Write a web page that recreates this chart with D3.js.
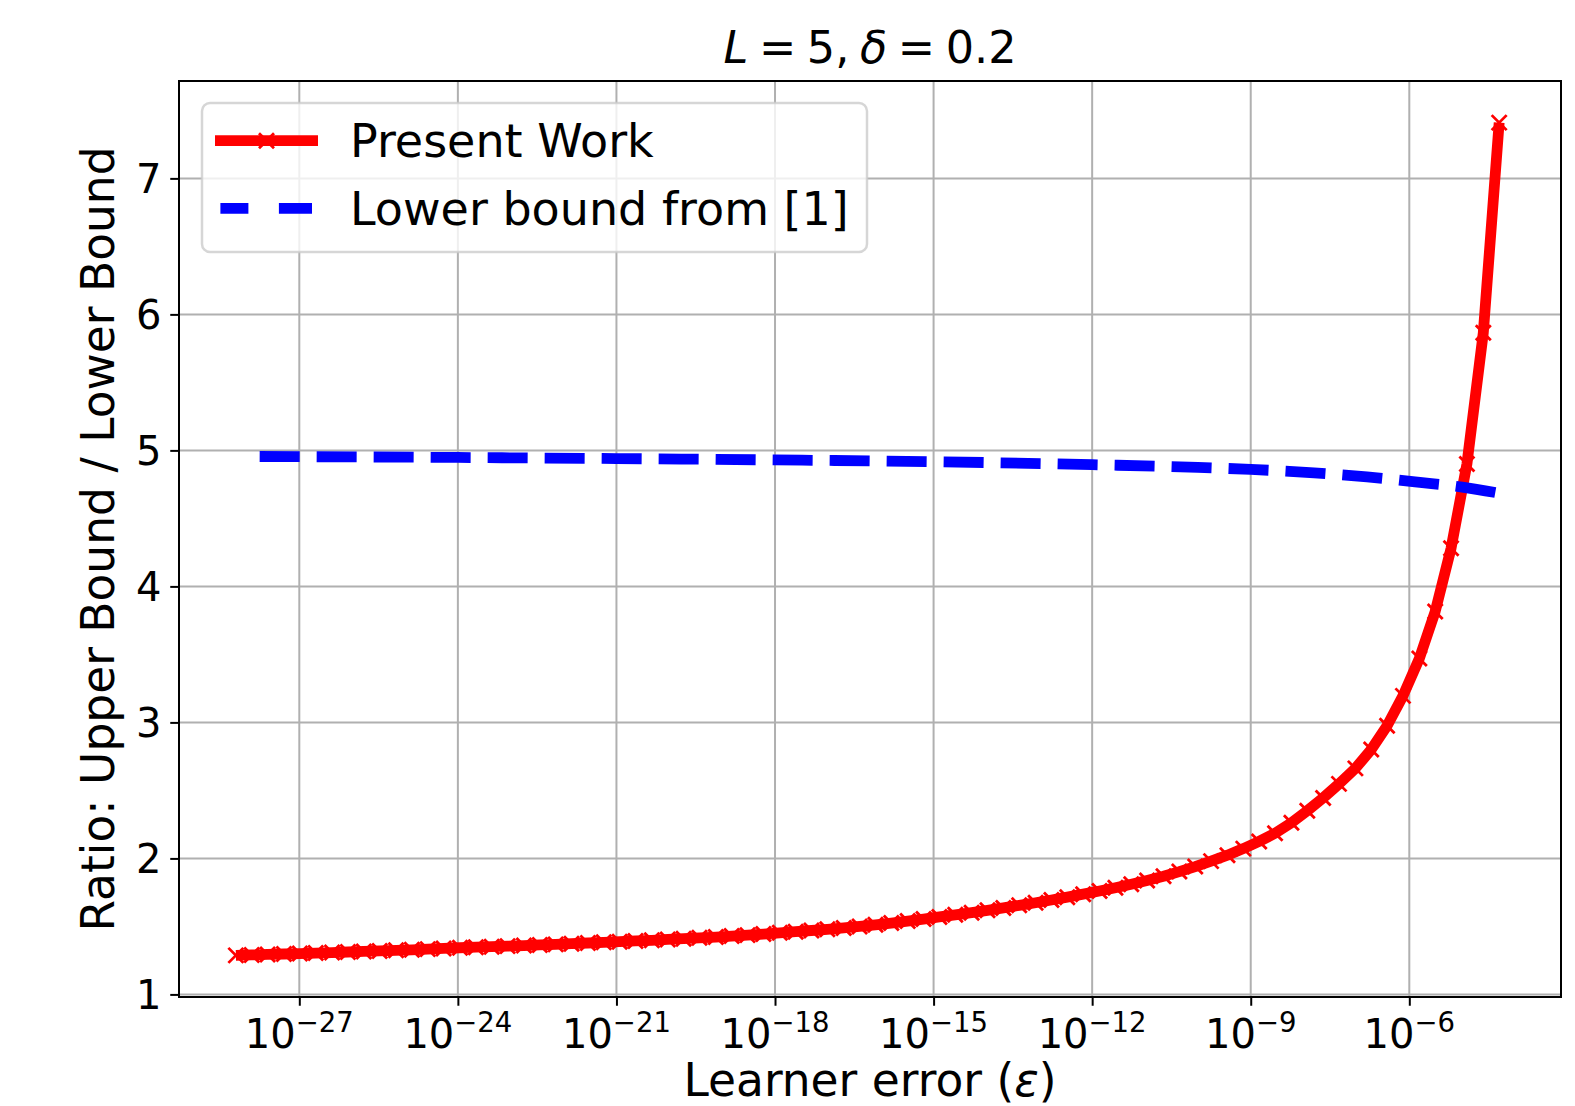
<!DOCTYPE html>
<html>
<head>
<meta charset="utf-8">
<script src="https://cdn.jsdelivr.net/npm/d3@7"></script>
<style>
  body { margin: 0; background: #ffffff; }
  svg { display: block; font-family: "DejaVu Sans", sans-serif; }
</style>
</head>
<body>
<svg id="chart" width="1575" height="1106"></svg>
<script>
// log10 of the learner error for each point of the red curve
const epsLog = [
  -28.20, -27.90, -27.60, -27.29, -26.99, -26.69, -26.38, -26.08, -25.78, -25.48,
  -25.17, -24.87, -24.57, -24.27, -23.96, -23.66, -23.36, -23.06, -22.75, -22.45,
  -22.15, -21.85, -21.54, -21.24, -20.94, -20.64, -20.33, -20.03, -19.73, -19.43,
  -19.12, -18.82, -18.52, -18.22, -17.91, -17.61, -17.31, -17.01, -16.70, -16.40,
  -16.10, -15.80, -15.49, -15.19, -14.89, -14.59, -14.28, -13.98, -13.68, -13.38,
  -13.07, -12.77, -12.47, -12.17, -11.86, -11.56, -11.26, -10.96, -10.65, -10.35,
  -10.05, -9.75, -9.44, -9.14, -8.84, -8.54, -8.23, -7.93, -7.63, -7.33,
  -7.02, -6.72, -6.42, -6.12, -5.81, -5.51, -5.21, -4.91, -4.60, -4.30
];
// Ratio for "Present Work"
const presentWork = [
  1.287, 1.290, 1.294, 1.297, 1.300, 1.304, 1.308, 1.312, 1.316, 1.320,
  1.324, 1.328, 1.333, 1.338, 1.343, 1.347, 1.351, 1.355, 1.359, 1.364,
  1.368, 1.373, 1.378, 1.383, 1.388, 1.393, 1.398, 1.404, 1.410, 1.416,
  1.422, 1.429, 1.436, 1.444, 1.453, 1.461, 1.470, 1.479, 1.489, 1.500,
  1.512, 1.525, 1.539, 1.554, 1.570, 1.585, 1.601, 1.618, 1.636, 1.655,
  1.674, 1.694, 1.715, 1.737, 1.760, 1.784, 1.810, 1.838, 1.869, 1.903,
  1.940, 1.980, 2.024, 2.072, 2.125, 2.185, 2.262, 2.350, 2.445, 2.548,
  2.662, 2.800, 2.975, 3.195, 3.470, 3.815, 4.280, 4.900, 5.865, 7.410
];
// "Lower bound from [1]" (dashed blue)
const lowerEpsLog = [-27.75, -24, -21, -18, -15, -12, -10, -9, -7.8, -6.8, -5.8, -5.0, -4.3];
const lowerBound = [4.955, 4.948, 4.940, 4.930, 4.917, 4.895, 4.875, 4.860, 4.835, 4.805, 4.765, 4.730, 4.685];

// Tick values
const xTickExps = [-27, -24, -21, -18, -15, -12, -9, -6];
const yTicks = [1, 2, 3, 4, 5, 6, 7];

const RED = "#ff0000";
const BLUE = "#0000ff";
const GRID_COLOR = "#b0b0b0";

const svg = d3.select("#chart");
svg.append("rect").attr("width", 1575).attr("height", 1106).attr("fill", "#ffffff");

// Axes box
const plot = { left: 179, right: 1561, top: 81, bottom: 997 };
const xLim = [-29.276, -3.13];
const yLim = [0.981, 7.716];

const x = d3.scaleLog()
  .domain(xLim.map((e) => Math.pow(10, e)))
  .range([plot.left, plot.right]);
const y = d3.scaleLinear().domain(yLim).range([plot.bottom, plot.top]);

// Grid lines
const grid = svg.append("g").attr("stroke", GRID_COLOR).attr("stroke-width", 2);
grid.selectAll(".gx").data(xTickExps).join("line")
  .attr("x1", (d) => x(Math.pow(10, d))).attr("x2", (d) => x(Math.pow(10, d)))
  .attr("y1", plot.top).attr("y2", plot.bottom);
grid.selectAll(".gy").data(yTicks).join("line")
  .attr("x1", plot.left).attr("x2", plot.right)
  .attr("y1", (d) => y(d)).attr("y2", (d) => y(d));

// Present Work curve with x markers
const redData = epsLog.map((t, i) => ({ t, v: presentWork[i] }));
const line = d3.line().x((d) => x(Math.pow(10, d.t))).y((d) => y(d.v));

svg.append("path")
  .datum(redData)
  .attr("d", line)
  .attr("fill", "none")
  .attr("stroke", RED)
  .attr("stroke-width", 10.8)
  .attr("stroke-linejoin", "round");

const markerPath = "M-7.5,-7.5L7.5,7.5M-7.5,7.5L7.5,-7.5";
svg.append("g").selectAll("path").data(redData).join("path")
  .attr("d", markerPath)
  .attr("transform", (d) => `translate(${x(Math.pow(10, d.t))},${y(d.v)})`)
  .attr("stroke", RED)
  .attr("stroke-width", 2.8)
  .attr("fill", "none");

// Lower bound dashed line
const blueData = lowerEpsLog.map((t, i) => ({ t, v: lowerBound[i] }));
svg.append("path")
  .datum(blueData)
  .attr("d", d3.line().curve(d3.curveMonotoneX).x((d) => x(Math.pow(10, d.t))).y((d) => y(d.v)))
  .attr("fill", "none")
  .attr("stroke", BLUE)
  .attr("stroke-width", 10.8)
  .attr("stroke-dasharray", "40,17");

// Spines
svg.append("rect")
  .attr("x", plot.left).attr("y", plot.top)
  .attr("width", plot.right - plot.left).attr("height", plot.bottom - plot.top)
  .attr("fill", "none").attr("stroke", "#000000").attr("stroke-width", 2);

// X axis ticks
const xAxis = svg.append("g").attr("transform", `translate(0,${plot.bottom})`)
  .call(d3.axisBottom(x)
    .tickValues(xTickExps.map((e) => Math.pow(10, e)))
    .tickSize(8.75)
    .tickSizeOuter(0)
    .tickFormat(""));
xAxis.select(".domain").remove();
xAxis.selectAll(".tick line").attr("stroke", "#000").attr("stroke-width", 2);

const xLabels = svg.append("g").selectAll("text").data(xTickExps).join("text")
  .attr("x", (d) => x(Math.pow(10, d)))
  .attr("y", 1047.5)
  .attr("text-anchor", "middle")
  .attr("fill", "#000");
xLabels.append("tspan").attr("font-size", 40).text("10");
xLabels.append("tspan").attr("font-size", 27.5).attr("dy", -16)
  .text((d) => "\u2212" + Math.abs(d));

// Y axis ticks
const yAxis = svg.append("g").attr("transform", `translate(${plot.left},0)`)
  .call(d3.axisLeft(y)
    .tickValues(yTicks)
    .tickFormat(d3.format("d"))
    .tickSize(8.75)
    .tickSizeOuter(0)
    .tickPadding(8.75));
yAxis.select(".domain").remove();
yAxis.selectAll(".tick line").attr("stroke", "#000").attr("stroke-width", 2);
yAxis.selectAll(".tick text")
  .attr("font-size", 40)
  .attr("font-family", "DejaVu Sans")
  .attr("fill", "#000")
  .attr("dy", "0.36em");

// Axis labels
const xTitle = svg.append("text")
  .attr("x", (plot.left + plot.right) / 2)
  .attr("y", 1096)
  .attr("text-anchor", "middle")
  .attr("font-size", 45.5)
  .attr("fill", "#000");
xTitle.append("tspan").text("Learner error (");
xTitle.append("tspan").attr("font-style", "italic").text("\u03b5");
xTitle.append("tspan").text(")");

svg.append("text")
  .attr("transform", `translate(114,${(plot.top + plot.bottom) / 2}) rotate(-90)`)
  .attr("text-anchor", "middle")
  .attr("font-size", 45.5)
  .attr("fill", "#000")
  .text("Ratio: Upper Bound / Lower Bound");

// Title
const title = svg.append("text")
  .attr("x", (plot.left + plot.right) / 2)
  .attr("y", 63)
  .attr("text-anchor", "middle")
  .attr("font-size", 44.5)
  .attr("word-spacing", "-3.5px")
  .attr("fill", "#000");
title.append("tspan").attr("font-style", "italic").text("L");
title.append("tspan").text(" = 5, ");
title.append("tspan").attr("font-style", "italic").text("\u03b4");
title.append("tspan").text(" = 0.2");

// Legend
const legend = svg.append("g");
legend.append("rect")
  .attr("x", 202).attr("y", 103).attr("width", 665).attr("height", 149)
  .attr("rx", 8).attr("ry", 8)
  .attr("fill", "#ffffff").attr("fill-opacity", 0.8)
  .attr("stroke", "#cccccc").attr("stroke-opacity", 0.8).attr("stroke-width", 2.5);

legend.append("line")
  .attr("x1", 215).attr("x2", 318).attr("y1", 140.7).attr("y2", 140.7)
  .attr("stroke", RED).attr("stroke-width", 10.8);
legend.append("path")
  .attr("d", markerPath)
  .attr("transform", "translate(266.5,140.7)")
  .attr("stroke", RED).attr("stroke-width", 2.8);
legend.append("text")
  .attr("x", 350).attr("y", 157).attr("font-size", 46).attr("fill", "#000")
  .text("Present Work");

legend.append("line")
  .attr("x1", 220.4).attr("x2", 312).attr("y1", 208.3).attr("y2", 208.3)
  .attr("stroke", BLUE).attr("stroke-width", 10.8)
  .attr("stroke-dasharray", "28,30.5,34,10");
legend.append("text")
  .attr("x", 350).attr("y", 225).attr("font-size", 46).attr("fill", "#000")
  .text("Lower bound from [1]");
</script>
</body>
</html>
